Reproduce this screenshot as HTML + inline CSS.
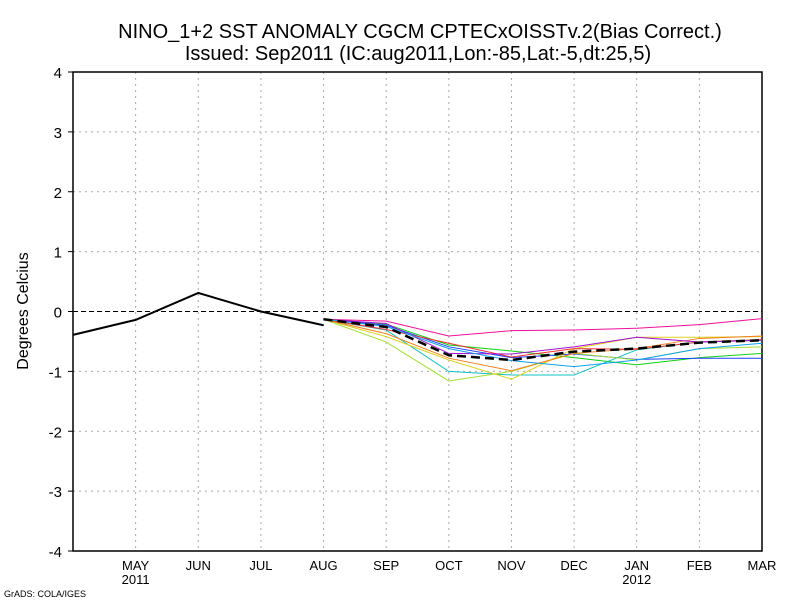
<!DOCTYPE html>
<html><head><meta charset="utf-8"><style>
body{margin:0;background:#fff}
svg{display:block;font-family:"Liberation Sans",sans-serif}
</style></head><body>
<svg id="c" width="800" height="600"></svg>
<script>
const months=["APR","MAY","JUN","JUL","AUG","SEP","OCT","NOV","DEC","JAN","FEB","MAR"];
const yTicks=[-4,-3,-2,-1,0,1,2,3,4];
const observed=[-0.39,-0.14,0.31,0.0,-0.23];
const fcStart=4;
const ensMagenta=[-0.13,-0.16,-0.41,-0.32,-0.31,-0.28,-0.22,-0.12];
const ensGreen=[-0.13,-0.21,-0.56,-0.66,-0.77,-0.89,-0.77,-0.70];
const ensBlue=[-0.13,-0.23,-0.59,-0.77,-0.71,-0.80,-0.78,-0.78];
const ensCyan=[-0.13,-0.31,-1.00,-1.06,-1.06,-0.64,-0.51,-0.48];
const ensLime=[-0.13,-0.51,-1.16,-1.00,-0.70,-0.81,-0.62,-0.59];
const ensYellow=[-0.13,-0.42,-0.81,-1.13,-0.62,-0.43,-0.43,-0.42];
const ensOrange=[-0.13,-0.37,-0.78,-0.99,-0.70,-0.62,-0.45,-0.41];
const ensRed=[-0.13,-0.30,-0.53,-0.76,-0.62,-0.63,-0.51,-0.47];
const ensPurple=[-0.13,-0.20,-0.70,-0.71,-0.59,-0.43,-0.51,-0.48];
const ensSky=[-0.13,-0.25,-0.62,-0.82,-0.92,-0.81,-0.62,-0.53];
const ensMean=[-0.13,-0.26,-0.73,-0.81,-0.67,-0.62,-0.52,-0.48];
const svg=document.getElementById('c');
const NS="http://www.w3.org/2000/svg";
const X0=73,X1=762,Y0=72,Y1=551;
const xs=i=>X0+(X1-X0)*i/(months.length-1);
const ys=v=>Y1-(v+4)*(Y1-Y0)/8;
function mk(t,a){const e=document.createElementNS(NS,t);for(const k in a)e.setAttribute(k,a[k]);svg.appendChild(e);return e;}
// grid
for(let i=1;i<months.length-1;i++){const l=mk('line',{x1:xs(i),x2:xs(i),y1:Y0,y2:Y1,stroke:'#aaa','stroke-dasharray':'2,4'});

}
yTicks.forEach(v=>{if(v>-4&&v<4&&v!==0){const l=mk('line',{x1:X0,x2:X1,y1:ys(v),y2:ys(v),stroke:'#aaa','stroke-dasharray':'2,4'});

}});
const z=mk('line',{x1:X0,x2:X1,y1:ys(0),y2:ys(0),stroke:'#000','stroke-dasharray':'5,3'});


const fr=mk('rect',{x:X0,y:Y0,width:X1-X0,height:Y1-Y0,fill:'none',stroke:'#000','stroke-width':1.5});


yTicks.forEach(v=>{const t=mk('text',{x:62,y:ys(v)+6,'text-anchor':'end','font-size':15});t.textContent=v;


mk('line',{x1:X0-5,x2:X0,y1:ys(v),y2:ys(v),stroke:'#000'});});
months.forEach((m,i)=>{if(i===0)return;const t=mk('text',{x:xs(i),y:570,'text-anchor':'middle','font-size':13});t.textContent=m;

});
[["2011",1],["2012",9]].forEach(([s,i])=>{const t=mk('text',{x:xs(i),y:584,'text-anchor':'middle','font-size':13});t.textContent=s;

});
function series(arr,off,color,w,name,dash){const pts=arr.map((v,i)=>xs(i+off)+','+ys(v)).join(' ');
const p=mk('polyline',{points:pts,fill:'none',stroke:color,'stroke-width':w});if(dash)p.setAttribute('stroke-dasharray',dash);

}
series(ensMagenta,fcStart,'#f0109a',1,'ensemble-magenta');
series(ensGreen,fcStart,'#10d010',1,'ensemble-green');
series(ensBlue,fcStart,'#2040ff',1,'ensemble-blue');
series(ensCyan,fcStart,'#10c0c0',1,'ensemble-cyan');
series(ensLime,fcStart,'#a0e030',1,'ensemble-lime');
series(ensYellow,fcStart,'#e0d020',1,'ensemble-yellow');
series(ensOrange,fcStart,'#f08020',1,'ensemble-orange');
series(ensRed,fcStart,'#f03030',1,'ensemble-red');
series(ensPurple,fcStart,'#a010d0',1,'ensemble-purple');
series(ensSky,fcStart,'#10a0f0',1,'ensemble-sky');
series(ensMean,fcStart,'#000',2.5,'ensemble-mean','9,5');
series(observed,0,'#000',2,'observed-line');
const t1=mk('text',{x:420,y:38,'text-anchor':'middle','font-size':20});t1.textContent="NINO_1+2 SST ANOMALY CGCM CPTECxOISSTv.2(Bias Correct.)";


const t2=mk('text',{x:418,y:60,'text-anchor':'middle','font-size':20});t2.textContent="Issued:  Sep2011 (IC:aug2011,Lon:-85,Lat:-5,dt:25,5)";


const yt=mk('text',{x:28,y:311,'text-anchor':'middle','font-size':16,transform:'rotate(-90 28 311)'});yt.textContent="Degrees Celcius";


const ft=mk('text',{x:4,y:597,'font-size':9});ft.textContent="GrADS: COLA/IGES";


</script>
</body></html>
